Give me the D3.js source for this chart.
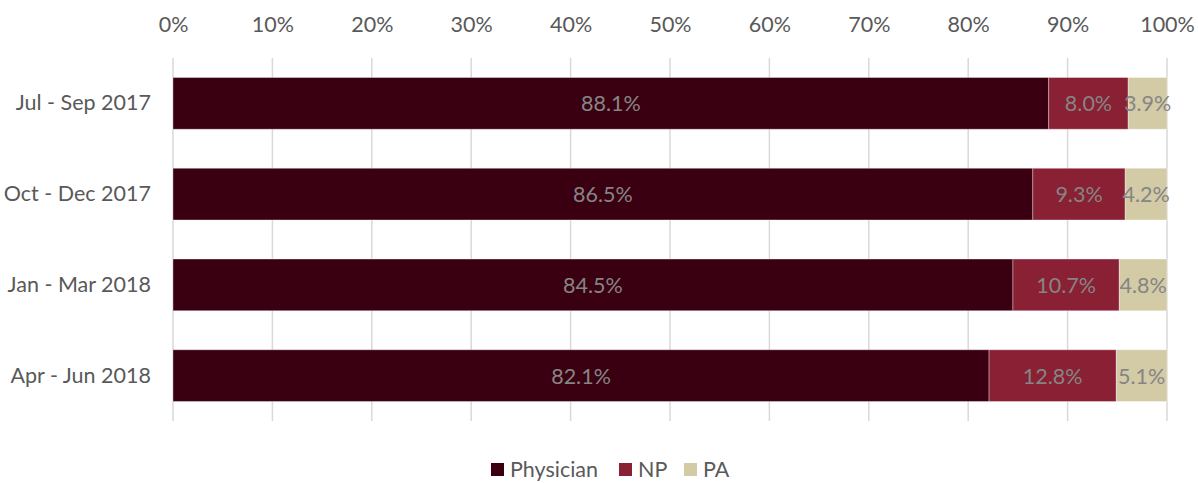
<!DOCTYPE html>
<html><head><meta charset="utf-8">
<script src="https://cdn.jsdelivr.net/npm/d3@7"></script>
<style>body{margin:0;background:#fff;} text{font-family:Lato,"Open Sans",sans-serif;}</style>
</head><body>
<svg id="c" width="1198" height="483"></svg>
<script>
const categories = ["Jul - Sep 2017","Oct - Dec 2017","Jan - Mar 2018","Apr - Jun 2018"];
const seriesNames = ["Physician","NP","PA"];
const physician = [88.1, 86.5, 84.5, 82.1];
const np = [8.0, 9.3, 10.7, 12.8];
const pa = [3.9, 4.2, 4.8, 5.1];
const tickValues = [0,10,20,30,40,50,60,70,80,90,100];
const colors = ["#3a0011","#8a2034","#d3caa6"];

(function(){
const svg = d3.select("#c");
const mLeft = 173, mRight = 1167, mTop = 58, mBottom = 421;
const x = d3.scaleLinear().domain([0,100]).range([mLeft,mRight]);
const y = d3.scaleBand().domain(categories).range([mTop,mBottom]).paddingInner(0.43).paddingOuter(0.215);

svg.append("g").selectAll("line").data(tickValues).join("line")
  .attr("x1",d=>x(d)).attr("x2",d=>x(d)).attr("y1",mTop).attr("y2",mBottom)
  .attr("stroke","#d9d9d9").attr("stroke-width",1.5);

const xAxis = d3.axisTop(x).tickValues(tickValues).tickFormat(d=>d+"%").tickSize(0).tickPadding(0);
const ax = svg.append("g").attr("transform","translate(0,32)").call(xAxis);
ax.select(".domain").remove();
ax.selectAll("text").attr("fill","#595959").style("font-size","21.5px").style("font-family","Lato,'Open Sans',sans-serif");

const yAxis = d3.axisLeft(y).tickSize(0).tickPadding(22);
const ay = svg.append("g").attr("transform",`translate(${mLeft},0)`).call(yAxis);
ay.select(".domain").remove();
ay.selectAll("text").attr("fill","#595959").style("font-size","21.5px").style("font-family","Lato,'Open Sans',sans-serif");

const rows = categories.map((c,i)=>({cat:c, Physician:physician[i], NP:np[i], PA:pa[i]}));
const stack = d3.stack().keys(seriesNames)(rows);

const g = svg.append("g");
stack.forEach((s,si)=>{
  const gg = g.append("g");
  gg.selectAll("rect").data(s).join("rect")
    .attr("x",d=>x(d[0])).attr("width",d=>x(d[1])-x(d[0]))
    .attr("y",d=>y(d.data.cat)).attr("height",y.bandwidth())
    .attr("fill",colors[si]).attr("stroke","rgba(255,255,255,0.35)").attr("stroke-width",1);
  gg.selectAll("text").data(s).join("text")
    .attr("x",d=>(x(d[0])+x(d[1]))/2).attr("y",d=>y(d.data.cat)+y.bandwidth()/2)
    .attr("text-anchor","middle").attr("dominant-baseline","central")
    .attr("fill","#858585").style("font-size","21.5px")
    .text(d=>(d[1]-d[0]).toFixed(1)+"%");
});

const legX = [491, 619, 684];
const lg = svg.append("g");
seriesNames.forEach((n,i)=>{
  lg.append("rect").attr("x",legX[i]).attr("y",463).attr("width",13).attr("height",13).attr("fill",colors[i]);
  lg.append("text").attr("x",legX[i]+19).attr("y",469).attr("dominant-baseline","central")
    .attr("fill","#595959").style("font-size","21.5px").text(n);
});
})();
</script>
</body></html>
